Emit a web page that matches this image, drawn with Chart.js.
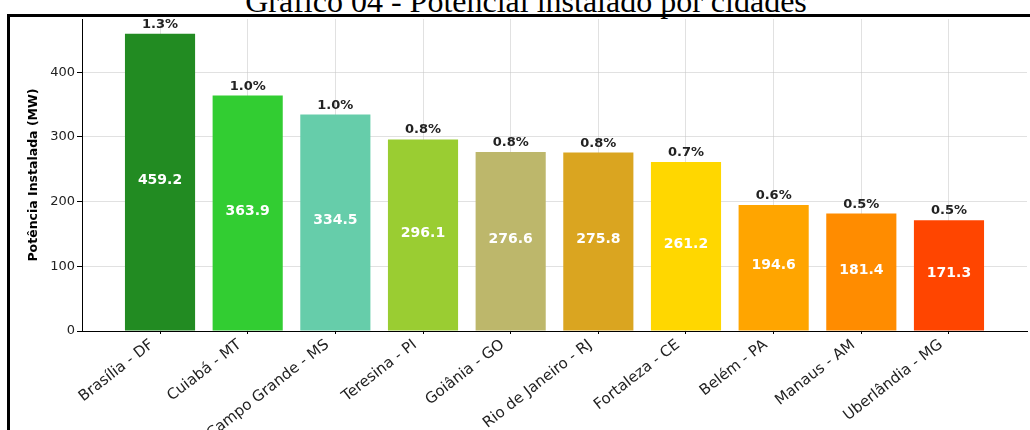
<!DOCTYPE html>
<html>
<head>
<meta charset="utf-8">
<script src="https://cdn.jsdelivr.net/npm/chart.js@4/dist/chart.umd.min.js"></script>
<style>
    body { margin: 0; background: #fff; overflow: hidden; width: 1030px; height: 430px; position: relative; }
    #titulo {
        position: absolute; left: 0; width: 1030px; top: -15px;
        text-align: center; padding-left: 22px; box-sizing: border-box;
        font-family: "Liberation Serif", "Times New Roman", serif; font-size: 32px; color: #000;
        line-height: 32px; white-space: nowrap;
    }
    #moldura {
        position: absolute; left: 7px; top: 14px; width: 1100px; height: 500px;
        border: 3px solid #000; pointer-events: none; z-index: 2;
    }
    #grafico { position: absolute; left: 0; top: 0; }
</style>
</head>
<body>
<div id="titulo">Gráfico 04 - Potencial instalado por cidades</div>
<div id="moldura"></div>
<canvas id="grafico" width="1030" height="430"></canvas>
<script>
// dados
var cidades = ["Brasília - DF", "Cuiabá - MT", "Campo Grande - MS", "Teresina - PI", "Goiânia - GO",
    "Rio de Janeiro - RJ", "Fortaleza - CE", "Belém - PA", "Manaus - AM", "Uberlândia - MG"];
var potencia = [459.2, 363.9, 334.5, 296.1, 276.6, 275.8, 261.2, 194.6, 181.4, 171.3];
var percentual = [1.3, 1.0, 1.0, 0.8, 0.8, 0.8, 0.7, 0.6, 0.5, 0.5];
var cores = ["#228B22", "#32CD32", "#66CDAA", "#9ACD32", "#BDB76B",
    "#DAA520", "#FFD700", "#FFA500", "#FF8C00", "#FF4500"];

var pontos = [];
for (var i = 0; i < potencia.length; i++) {
    pontos.push({ x: i, y: potencia[i] });
}

var fonte = "'DejaVu Sans', sans-serif";

// rotulos: valor no meio da barra e % em cima
var rotulos = {
    id: 'rotulos',
    afterDraw: function (chart) {
        var ctx = chart.ctx;
        var meta = chart.getDatasetMeta(0);
        ctx.save();
        ctx.textAlign = 'center';
        for (var i = 0; i < meta.data.length; i++) {
            var bar = meta.data[i];
            ctx.font = "bold 14px " + fonte;
            ctx.fillStyle = '#ffffff';
            ctx.textBaseline = 'middle';
            ctx.fillText(potencia[i].toFixed(1), bar.x, (bar.y + bar.base) / 2 - 2);
            ctx.font = "bold 13px " + fonte;
            ctx.fillStyle = '#222222';
            ctx.textBaseline = 'alphabetic';
            ctx.fillText(percentual[i].toFixed(1) + '%', bar.x, bar.y - 6);
        }
        ctx.restore();
    }
};

var grade = 'rgba(200, 200, 200, 0.55)';

var chart = new Chart(document.getElementById('grafico').getContext('2d'), {
    type: 'bar',
    data: {
        datasets: [{
            data: pontos,
            backgroundColor: cores,
            borderWidth: 0,
            categoryPercentage: 1,
            barPercentage: 0.8
        }]
    },
    options: {
        responsive: false,
        animation: false,
        devicePixelRatio: 1,
        layout: { padding: { top: 19, right: 3, left: 0, bottom: 0 } },
        plugins: { legend: { display: false }, tooltip: { enabled: false } },
        scales: {
            x: {
                type: 'linear',
                min: -0.89,
                max: 9.89,
                offset: false,
                z: 1,
                afterFit: function (scale) { scale.height = 99; },
                border: { display: true, color: '#000', width: 1 },
                grid: { offset: false, color: grade, borderDash: [4, 2], drawTicks: true, tickLength: 3, tickColor: '#000' },
                ticks: {
                    stepSize: 1,
                    includeBounds: false,
                    autoSkip: false,
                    maxRotation: 38,
                    minRotation: 38,
                    padding: 2,
                    labelOffset: -8,
                    color: '#222',
                    font: { family: fonte, size: 15 },
                    callback: function (v) { return cidades[v] !== undefined ? cidades[v] : ''; }
                }
            },
            y: {
                min: 0,
                max: 482.16,
                z: 1,
                afterFit: function (scale) { scale.width = 82; },
                border: { display: true, color: '#000', width: 1 },
                grid: { color: grade, borderDash: [4, 2], tickLength: 5, tickColor: '#000' },
                ticks: {
                    stepSize: 100,
                    includeBounds: false,
                    padding: 2,
                    color: '#222',
                    font: { family: fonte, size: 13 }
                },
                title: {
                    display: true,
                    text: 'Potência Instalada (MW)',
                    color: '#000',
                    font: { family: fonte, size: 12.5, weight: 'bold' },
                    padding: { top: 26, bottom: 0 }
                }
            }
        }
    },
    plugins: [rotulos]
});
</script>
</body>
</html>
